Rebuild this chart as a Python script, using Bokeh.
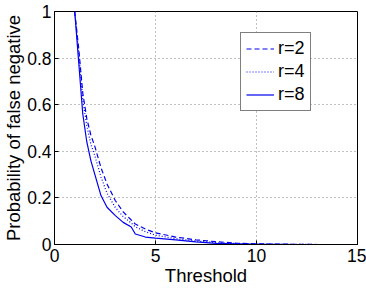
from bokeh.plotting import figure
from bokeh.models import FixedTicker, Range1d, Legend, LegendItem
from bokeh.embed import file_html
from bokeh.resources import INLINE

x_vals = [1.0, 1.2, 1.4, 1.6, 1.8, 2.0, 2.3, 2.6, 3.0, 3.4, 3.8, 4.0, 4.5, 5, 6, 7, 8, 9, 10, 11, 12, 13]
r2_vals = [1.0, 0.84, 0.65, 0.54, 0.47, 0.42, 0.33, 0.26, 0.19, 0.14, 0.105, 0.088, 0.066, 0.05, 0.032, 0.02, 0.012, 0.006, 0.003, 0.0015, 0.001, 0.0]
r4_vals = [1.0, 0.82, 0.62, 0.51, 0.43, 0.38, 0.29, 0.22, 0.16, 0.12, 0.092, 0.076, 0.055, 0.04, 0.025, 0.015, 0.008, 0.004, 0.002, 0.001, 0.0005, 0.0]
r8_vals = [1.0, 0.78, 0.56, 0.44, 0.36, 0.30, 0.21, 0.16, 0.125, 0.095, 0.075, 0.045, 0.032, 0.027, 0.02, 0.011, 0.005, 0.003, 0.001, 0.0005, 0.0, 0.0]
series_labels = ["r=2", "r=4", "r=8"]
x_ticks = [0, 5, 10, 15]
y_ticks = [0, 0.2, 0.4, 0.6, 0.8, 1]
y_tick_labels = ["0", "0.2", "0.4", "0.6", "0.8", "1"]

FONT = "Liberation Sans"

p = figure(width=366, height=288, output_backend="svg", toolbar_location=None,
           x_range=Range1d(0, 15), y_range=Range1d(0, 1),
           min_border_left=53, min_border_right=9, min_border_top=11, min_border_bottom=44)
p.background_fill_color = "white"
p.border_fill_color = "white"
p.outline_line_color = "black"
p.outline_line_width = 1
p.outline_line_alpha = 1

for ax in (p.xaxis, p.yaxis):
    ax.axis_line_color = "black"
    ax.major_tick_in = 4
    ax.major_tick_out = 0
    ax.minor_tick_line_color = None
    ax.major_label_text_font = FONT
    ax.major_label_text_font_size = "17.5px"
    ax.major_label_text_color = "black"
    ax.axis_label_text_font = FONT
    ax.axis_label_text_font_size = "18.5px"
    ax.axis_label_text_font_style = "normal"
    ax.axis_label_text_color = "black"

p.xaxis.ticker = FixedTicker(ticks=x_ticks)
p.yaxis.ticker = FixedTicker(ticks=y_ticks)
p.yaxis.major_label_overrides = {t: l for t, l in zip(y_ticks, y_tick_labels)}
p.xaxis.axis_label = "Threshold"
p.yaxis.axis_label = "Probability of false negative"
p.xaxis.major_label_standoff = 4
p.xaxis.axis_label_standoff = 0
p.yaxis.major_label_standoff = 3
p.yaxis.axis_label_standoff = 0

for g in (p.xgrid, p.ygrid):
    g.grid_line_color = "#808080"
    g.grid_line_dash = "1 3"
    g.grid_line_width = 1

color = "#0000ee"
l2 = p.line(x_vals, r2_vals, line_color=color, line_width=1.2, line_dash="5 3")
l4 = p.line(x_vals, r4_vals, line_color=color, line_width=1.2, line_dash="1 2")
l8 = p.line(x_vals, r8_vals, line_color=color, line_width=1.2)

legend = Legend(items=[LegendItem(label=series_labels[0], renderers=[l2]),
                       LegendItem(label=series_labels[1], renderers=[l4]),
                       LegendItem(label=series_labels[2], renderers=[l8])],
                location=(186, 133))
legend.label_text_font = FONT
legend.label_text_font_size = "18px"
legend.label_text_color = "black"
legend.glyph_width = 28
legend.glyph_height = 21
legend.label_height = 21
legend.label_standoff = 4
legend.spacing = 2
legend.padding = 5
legend.margin = 0
legend.border_line_color = "black"
legend.border_line_width = 1
legend.background_fill_color = "white"
legend.background_fill_alpha = 1
p.add_layout(legend, "center")

open("out.html", "w").write(file_html(p, INLINE))
